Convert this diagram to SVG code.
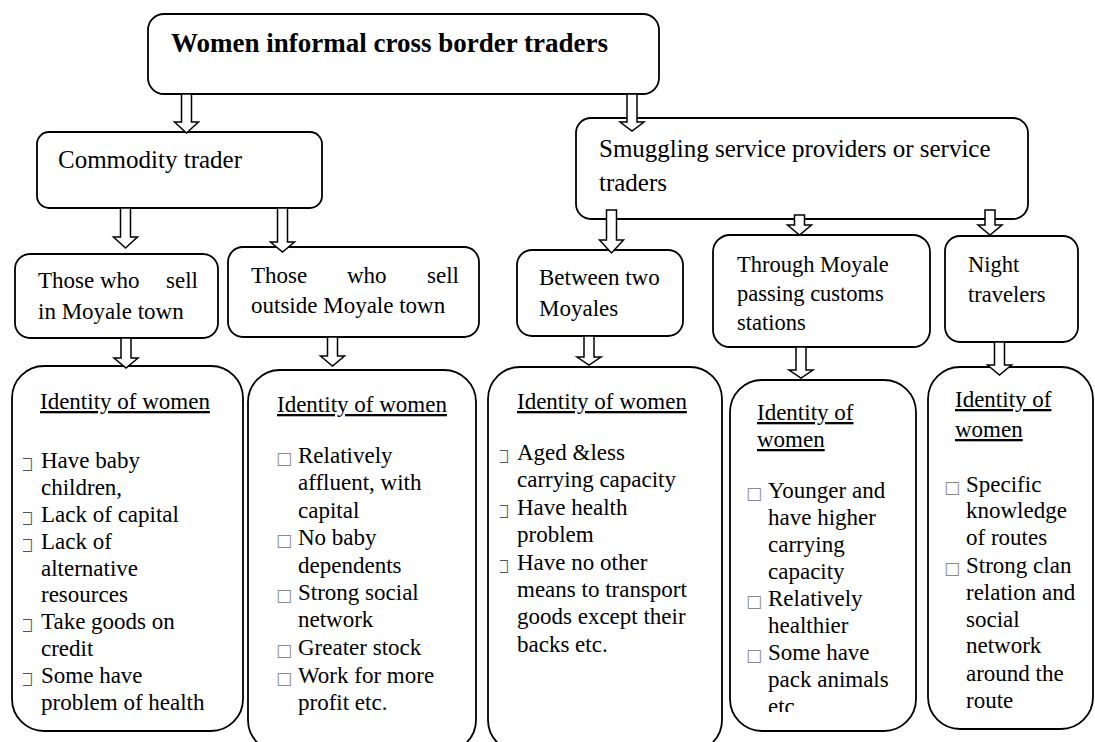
<svg xmlns="http://www.w3.org/2000/svg" width="1095" height="742" viewBox="0 0 1095 742" font-family="'Liberation Serif', 'Times New Roman', serif">
<style>
.box{fill:#fff;stroke:#000;stroke-width:1.8}
.arr{fill:#fff;stroke:#000;stroke-width:1.5;stroke-linejoin:miter}
.tx{font-family:'Liberation Serif','Times New Roman',serif;fill:#000}
.t23{font-size:23px}
.t22{font-size:22.5px}
.t25{font-size:25px}
.title{font-size:27px;font-weight:bold}
.u{text-decoration:underline}
.b{font-family:'DejaVu Sans',sans-serif;font-size:17px;fill:#8a8a8a}
.bp{font-family:'DejaVu Sans',sans-serif;font-size:17px;fill:#555}
</style>
<defs>
<clipPath id="cb1"><rect x="23" y="0" width="40" height="742"/></clipPath>
<clipPath id="cb3"><rect x="500" y="0" width="40" height="742"/></clipPath>
<clipPath id="cetc"><rect x="700" y="0" width="300" height="712"/></clipPath>
</defs>

<g id="top">
<rect class="box" x="148" y="14" width="511" height="80" rx="16"/>
<text class="tx title" x="171" y="52">Women informal cross border traders</text>
</g>

<g id="commodity">
<rect class="box" x="37" y="132" width="285" height="76" rx="12"/>
<text class="tx t25" x="58" y="168">Commodity trader</text>
</g>

<g id="smuggling">
<rect class="box" x="576" y="118" width="452" height="101" rx="15"/>
<text class="tx t25" x="599" y="157">Smuggling service providers or service</text>
<text class="tx t25" x="599" y="191">traders</text>
</g>

<g id="sell-in">
<rect class="box" x="15" y="254" width="203" height="84" rx="15"/>
<text class="tx t23" y="288"><tspan x="38">Those</tspan><tspan x="100">who</tspan><tspan x="166">sell</tspan></text>
<text class="tx t23" x="38" y="319">in Moyale town</text>
</g>

<g id="sell-out">
<rect class="box" x="228" y="247" width="251" height="90" rx="15"/>
<text class="tx t23" y="283"><tspan x="251">Those</tspan><tspan x="347">who</tspan><tspan x="427">sell</tspan></text>
<text class="tx t23" x="251" y="313">outside Moyale town</text>
</g>

<g id="between">
<rect class="box" x="517" y="250" width="166" height="86" rx="15"/>
<text class="tx t23" x="539" y="285">Between  two</text>
<text class="tx t23" x="539" y="316">Moyales</text>
</g>

<g id="through">
<rect class="box" x="713" y="235" width="217" height="112" rx="17"/>
<text class="tx t22" x="737" y="272">Through Moyale</text>
<text class="tx t22" x="737" y="301">passing customs</text>
<text class="tx t22" x="737" y="330">stations</text>
</g>

<g id="night">
<rect class="box" x="945" y="236" width="133" height="106" rx="15"/>
<text class="tx t22" x="968" y="272">Night</text>
<text class="tx t22" x="968" y="302">travelers</text>
</g>

<g id="identity1">
<rect class="box" x="12" y="366" width="231" height="365" rx="32"/>
<text class="tx t23 u" x="40" y="409">Identity of women</text>
<g clip-path="url(#cb1)">
<text class="bp" x="17" y="469">□</text>
<text class="bp" x="17" y="523">□</text>
<text class="bp" x="17" y="550">□</text>
<text class="bp" x="17" y="630">□</text>
<text class="bp" x="17" y="684">□</text>
</g>
<text class="tx t23" x="41" y="468">Have baby</text>
<text class="tx t23" x="41" y="495">children,</text>
<text class="tx t23" x="41" y="522">Lack of capital</text>
<text class="tx t23" x="41" y="549">Lack of</text>
<text class="tx t23" x="41" y="576">alternative</text>
<text class="tx t23" x="41" y="602">resources</text>
<text class="tx t23" x="41" y="629">Take goods on</text>
<text class="tx t23" x="41" y="656">credit</text>
<text class="tx t23" x="41" y="683">Some have</text>
<text class="tx t23" x="41" y="710">problem of health</text>
</g>

<g id="identity2">
<rect class="box" x="248" y="370" width="228" height="382" rx="32"/>
<text class="tx t23 u" x="277" y="412">Identity of women</text>
<text class="b" x="276" y="464">□</text>
<text class="b" x="276" y="546">□</text>
<text class="b" x="276" y="601">□</text>
<text class="b" x="276" y="656">□</text>
<text class="b" x="276" y="684">□</text>
<text class="tx t23" x="298" y="463">Relatively</text>
<text class="tx t23" x="298" y="490">affluent, with</text>
<text class="tx t23" x="298" y="518">capital</text>
<text class="tx t23" x="298" y="545">No baby</text>
<text class="tx t23" x="298" y="573">dependents</text>
<text class="tx t23" x="298" y="600">Strong social</text>
<text class="tx t23" x="298" y="627">network</text>
<text class="tx t23" x="298" y="655">Greater stock</text>
<text class="tx t23" x="298" y="683">Work for more</text>
<text class="tx t23" x="298" y="710">profit etc.</text>
</g>

<g id="identity3">
<rect class="box" x="488" y="367" width="234" height="385" rx="32"/>
<text class="tx t23 u" x="517" y="409">Identity of women</text>
<g clip-path="url(#cb3)">
<text class="bp" x="493" y="461">□</text>
<text class="bp" x="493" y="516">□</text>
<text class="bp" x="493" y="571">□</text>
</g>
<text class="tx t23" x="517" y="460">Aged &amp;less</text>
<text class="tx t23" x="517" y="487">carrying capacity</text>
<text class="tx t23" x="517" y="515">Have health</text>
<text class="tx t23" x="517" y="542">problem</text>
<text class="tx t23" x="517" y="570">Have no other</text>
<text class="tx t23" x="517" y="597">means to transport</text>
<text class="tx t23" x="517" y="624">goods except their</text>
<text class="tx t23" x="517" y="652">backs etc.</text>
</g>

<g id="identity4">
<rect class="box" x="730" y="380" width="186" height="351" rx="32"/>
<text class="tx t23 u" x="757" y="420">Identity of</text>
<text class="tx t23 u" x="757" y="447">women</text>
<text class="b" x="746" y="499">□</text>
<text class="b" x="746" y="607">□</text>
<text class="b" x="746" y="661">□</text>
<text class="tx t23" x="768" y="498">Younger and</text>
<text class="tx t23" x="768" y="525">have higher</text>
<text class="tx t23" x="768" y="552">carrying</text>
<text class="tx t23" x="768" y="579">capacity</text>
<text class="tx t23" x="768" y="606">Relatively</text>
<text class="tx t23" x="768" y="633">healthier</text>
<text class="tx t23" x="768" y="660">Some have</text>
<text class="tx t23" x="768" y="687">pack animals</text>
<text class="tx t23" x="768" y="714" clip-path="url(#cetc)">etc</text>
</g>

<g id="identity5">
<rect class="box" x="928" y="367" width="165" height="362" rx="32"/>
<text class="tx t23 u" x="955" y="407">Identity of</text>
<text class="tx t23 u" x="955" y="437">women</text>
<text class="b" x="944" y="493">□</text>
<text class="b" x="944" y="574">□</text>
<text class="tx t23" x="966" y="492">Specific</text>
<text class="tx t23" x="966" y="518">knowledge</text>
<text class="tx t23" x="966" y="545">of routes</text>
<text class="tx t23" x="966" y="573">Strong clan</text>
<text class="tx t23" x="966" y="600">relation and</text>
<text class="tx t23" x="966" y="627">social</text>
<text class="tx t23" x="966" y="653">network</text>
<text class="tx t23" x="966" y="681">around the</text>
<text class="tx t23" x="966" y="708">route</text>
</g>

<g id="connectors">
<polygon class="arr" points="181.5,94 191.5,94 191.5,122 198.5,122 186.5,133 174.5,122 181.5,122"/>
<polygon class="arr" points="627,94 637,94 637,122 644,122 632,131 620,122 627,122"/>
<polygon class="arr" points="120.5,208 130.5,208 130.5,237 137.5,237 125.5,248 113.5,237 120.5,237"/>
<polygon class="arr" points="277.5,208 287.5,208 287.5,242 294.5,242 282.5,252 270.5,242 277.5,242"/>
<polygon class="arr" points="121,338 131,338 131,358 138,358 126,368 114,358 121,358"/>
<polygon class="arr" points="327.5,337 337.5,337 337.5,356 344.5,356 332.5,366 320.5,356 327.5,356"/>
<polygon class="arr" points="606.5,210 616.5,210 616.5,240 623.5,240 611.5,253 599.5,240 606.5,240"/>
<polygon class="arr" points="794.5,215 804.5,215 804.5,225 811.5,225 799.5,235 787.5,225 794.5,225"/>
<polygon class="arr" points="985,210 995,210 995,225 1002,225 990,235 978,225 985,225"/>
<polygon class="arr" points="584,336 594,336 594,357 601,357 589,365 577,357 584,357"/>
<polygon class="arr" points="796,347 806,347 806,370 813,370 801,378 789,370 796,370"/>
<polygon class="arr" points="994.5,342 1004.5,342 1004.5,365 1011.5,365 999.5,375 987.5,365 994.5,365"/>
</g>
</svg>
